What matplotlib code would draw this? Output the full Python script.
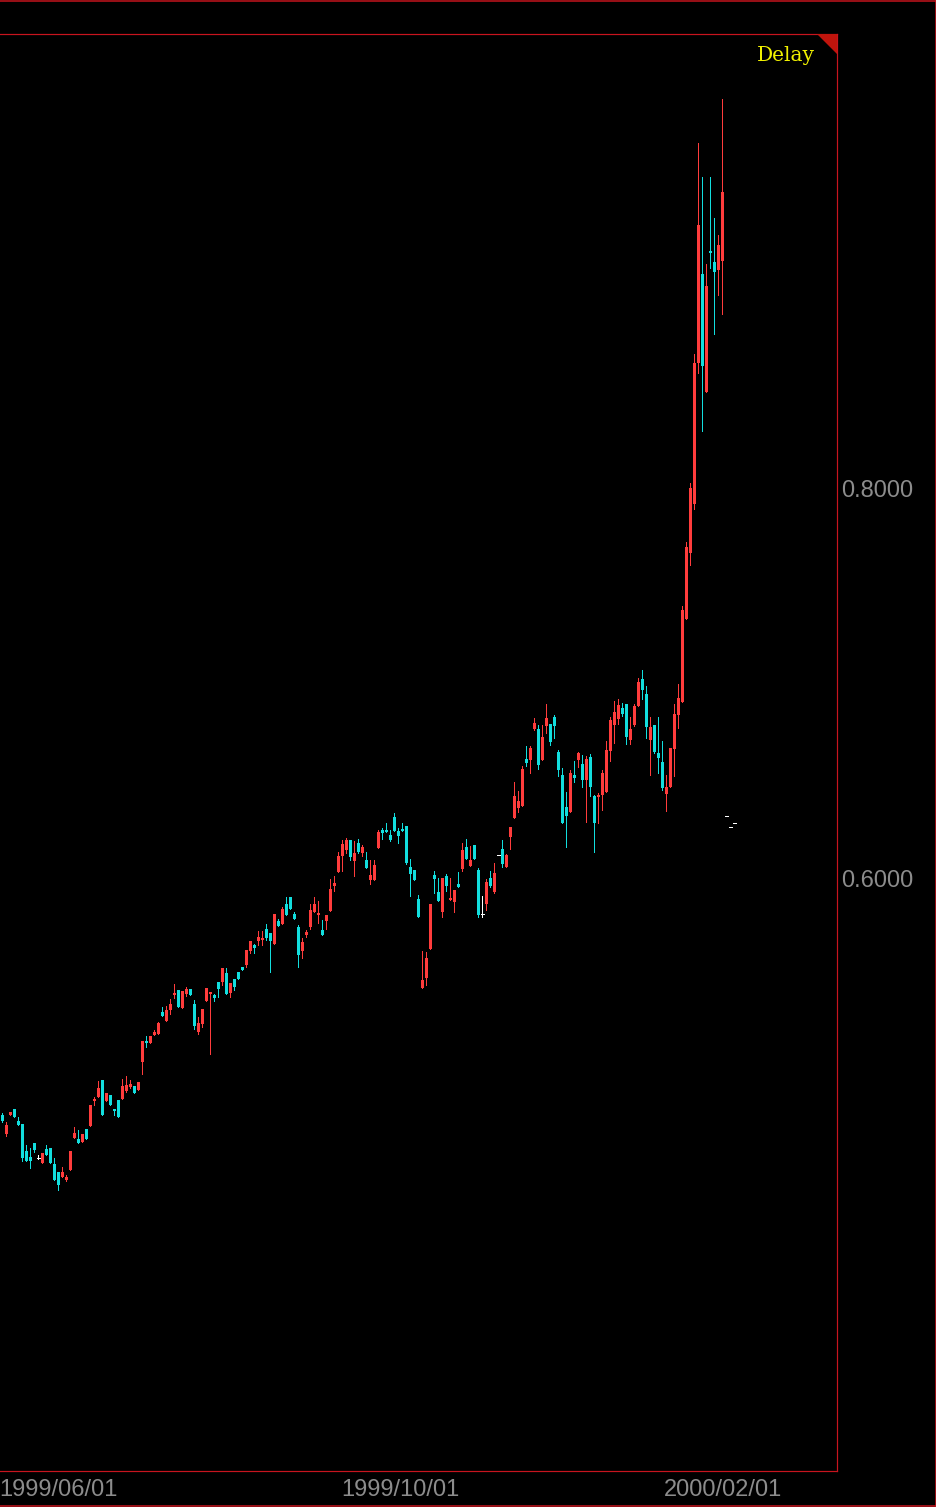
import matplotlib
matplotlib.use("Agg")
import matplotlib.pyplot as plt
from matplotlib.lines import Line2D
from matplotlib.patches import Polygon
import numpy as np

# ---------------- data (candle index, OHLC) ----------------
opens = [
    .4790, .4693, .4790, .4821, .4759, .4744, .4605, .4574, .4646, .4569,
    .4543, .4615, .4621, .4538, .4497, .4472, .4456, .4507, .4672, .4667,
    .4651, .4718, .4733, .4862, .4882, .4970, .4862, .4893, .4821, .4867,
    .4872, .4913, .4934, .4939, .4918, .5061, .5169, .5159, .5200, .5205,
    .5317, .5271, .5328, .5405, .5431, .5338, .5410, .5436, .5359, .5215,
    .5256, .5374, .5410, .5405, .5471, .5471, .5518, .5415, .5487, .5523,
    .5549, .5559, .5631, .5662, .5682, .5687, .5743, .5723, .5667, .5784,
    .5769, .5872, .5908, .5820, .5754, .5631, .5713, .5754, .5831, .5815,
    .5738, .5784, .5836, .5964, .6036, .6118, .6149, .6200, .6092, .6185,
    .6133, .6097, .5995, .5995, .6159, .6251, .6251, .6226, .6318, .6246,
    .6256, .6272, .6062, .6046, .5897, .5441, .5492, .5641, .6021, .5933,
    .5831, .6015, .5892, .5882, .5974, .6051, .6164, .6067, .6174, .6046,
    .5820, .5872, .6005, .5933, .6123, .6154, .6062, .6215, .6313, .6364,
    .6374, .6616, .6611, .6769, .6769, .6611, .6785, .6795, .6831, .6652,
    .6533, .6369, .6344, .6533, .6611, .6590, .6508, .6626, .6426, .6421,
    .6431, .6446, .6656, .6790, .6820, .6877, .6897, .6713, .6790, .6887,
    .7026, .6949, .6713, .6790, .6646, .6600, .6436, .6472, .6667, .6841,
    .6908, .7333, .7672, .7923, .8646, .9103, .8497, .9221, .9164, .9123,
    .9169,
]
highs = [
    .4800, .4754, .4805, .4821, .4780, .4744, .4636, .4621, .4646, .4585,
    .4595, .4636, .4621, .4569, .4497, .4523, .4482, .4605, .4729, .4713,
    .4693, .4718, .4841, .4882, .4964, .4970, .4903, .4893, .4821, .4867,
    .4975, .4990, .4970, .4939, .4959, .5169, .5195, .5195, .5226, .5267,
    .5343, .5348, .5385, .5461, .5431, .5425, .5446, .5436, .5379, .5292,
    .5333, .5441, .5420, .5410, .5471, .5544, .5544, .5466, .5487, .5523,
    .5549, .5636, .5682, .5667, .5733, .5733, .5769, .5723, .5820, .5795,
    .5856, .5908, .5908, .5831, .5764, .5697, .5738, .5872, .5908, .5887,
    .5790, .5815, .6000, .6015, .6139, .6200, .6210, .6200, .6195, .6205,
    .6174, .6139, .6097, .6097, .6251, .6262, .6287, .6251, .6338, .6262,
    .6287, .6272, .6103, .6046, .5918, .5631, .5626, .5872, .6041, .6005,
    .6005, .6026, .6005, .5944, .6036, .6185, .6205, .6169, .6174, .6056,
    .5913, .6000, .6041, .6082, .6123, .6200, .6128, .6267, .6497, .6451,
    .6580, .6682, .6682, .6826, .6790, .6790, .6897, .6795, .6841, .6662,
    .6570, .6446, .6559, .6605, .6652, .6636, .6631, .6641, .6431, .6441,
    .6559, .6708, .6831, .6913, .6923, .6903, .6897, .6831, .6897, .7031,
    .7072, .6990, .6831, .6790, .6831, .6708, .6533, .6672, .6897, .7000,
    .7400, .7728, .8031, .8692, .9774, .9600, .9154, .9600, .9390, .9303,
    1.0000,
]
lows = [
    .4754, .4682, .4790, .4780, .4739, .4554, .4554, .4518, .4600, .4564,
    .4543, .4585, .4543, .4456, .4405, .4472, .4451, .4507, .4672, .4646,
    .4651, .4667, .4733, .4841, .4882, .4790, .4862, .4841, .4790, .4780,
    .4872, .4908, .4929, .4903, .4918, .5000, .5138, .5159, .5200, .5205,
    .5297, .5271, .5307, .5390, .5343, .5338, .5400, .5405, .5231, .5205,
    .5241, .5374, .5102, .5374, .5395, .5456, .5410, .5395, .5431, .5487,
    .5533, .5549, .5621, .5621, .5662, .5662, .5687, .5523, .5667, .5759,
    .5769, .5815, .5846, .5795, .5549, .5595, .5703, .5743, .5831, .5774,
    .5713, .5743, .5836, .5938, .6036, .6041, .6133, .6097, .6015, .6133,
    .6118, .6056, .5974, .5995, .6159, .6205, .6241, .6195, .6246, .6185,
    .6246, .6077, .5913, .5995, .5805, .5441, .5456, .5641, .5928, .5887,
    .5805, .5938, .5892, .5831, .5959, .6041, .6103, .6067, .6103, .5805,
    .5805, .5841, .5959, .5928, .6123, .6062, .6062, .6154, .6313, .6344,
    .6374, .6580, .6544, .6764, .6565, .6611, .6749, .6687, .6723, .6528,
    .6287, .6164, .6344, .6497, .6575, .6472, .6292, .6426, .6139, .6287,
    .6354, .6446, .6605, .6698, .6795, .6836, .6692, .6692, .6785, .6887,
    .6923, .6723, .6533, .6646, .6544, .6456, .6349, .6472, .6528, .6774,
    .6908, .7333, .7610, .7897, .8595, .8297, .8497, .9133, .8795, .8995,
    .8897,
]
closes = [
    .4759, .4739, .4805, .4780, .4739, .4569, .4554, .4554, .4610, .4569,
    .4595, .4585, .4543, .4456, .4431, .4497, .4472, .4605, .4698, .4646,
    .4693, .4667, .4841, .4872, .4929, .4790, .4903, .4841, .4810, .4780,
    .4939, .4944, .4949, .4903, .4959, .5169, .5159, .5195, .5215, .5262,
    .5297, .5328, .5359, .5415, .5343, .5425, .5436, .5405, .5246, .5262,
    .5333, .5441, .5420, .5390, .5436, .5544, .5410, .5466, .5446, .5487,
    .5533, .5636, .5682, .5646, .5703, .5697, .5697, .5682, .5820, .5759,
    .5846, .5815, .5846, .5795, .5610, .5677, .5728, .5841, .5872, .5825,
    .5713, .5815, .5949, .5979, .6118, .6180, .6200, .6113, .6133, .6139,
    .6164, .6056, .6021, .6072, .6241, .6236, .6241, .6200, .6246, .6221,
    .6246, .6082, .6026, .5995, .5805, .5482, .5595, .5872, .6000, .5887,
    .6005, .5964, .5903, .5944, .5959, .6149, .6103, .6097, .6103, .5815,
    .5820, .5985, .5964, .6031, .6123, .6077, .6123, .6267, .6426, .6400,
    .6565, .6595, .6672, .6800, .6585, .6728, .6826, .6703, .6785, .6559,
    .6287, .6323, .6544, .6518, .6646, .6508, .6616, .6472, .6287, .6431,
    .6544, .6662, .6815, .6856, .6892, .6846, .6728, .6769, .6887, .7010,
    .6969, .6780, .6780, .6652, .6621, .6467, .6472, .6672, .6846, .6928,
    .7379, .7702, .8005, .8646, .9354, .8631, .9041, .9210, .9113, .9251,
    .9523,
]

date_positions = [14, 99.4, 180.2]
date_labels = ["1999/06/01", "1999/10/01", "2000/02/01"]
price_ticks = [0.6, 0.8]
marker_x = [181, 182, 183]
marker_y = [0.6323, 0.6267, 0.6287]

# ---------------- styling ----------------
W, H, DPI = 937, 1507, 100
BG = "#000000"
UP = "#FF3C3C"
DOWN = "#12DEDE"
FLAT = "#FFFFFF"
FRAME = "#C8141E"
LABEL = "#8C8C8C"
PX = 72.0 / DPI  # one pixel in points

fig = plt.figure(figsize=(W / DPI, H / DPI), dpi=DPI, facecolor=BG)
ax = fig.add_axes([0 / W, 1 - 1471 / H, 837 / W, (1471 - 34) / H])
ax.set_facecolor(BG)

o = np.array(opens); h = np.array(highs); l = np.array(lows); c = np.array(closes)
x = np.arange(len(o))
colors = np.where(c > o, UP, np.where(c < o, DOWN, FLAT))

# wicks
ax.vlines(x, l, h, colors=colors, linewidth=1.0 * PX, antialiased=False, zorder=2)
# bodies
body_w = 0.75
bottom = np.minimum(o, c)
height = np.abs(c - o)
mask = height > 0
height_min = np.maximum(height, 0.0008)
ax.bar(x[mask], height_min[mask], bottom=bottom[mask], width=body_w,
       color=colors[mask], linewidth=0, antialiased=False, zorder=3)
# doji
ax.hlines(c[~mask], x[~mask] - body_w / 2, x[~mask] + body_w / 2,
          colors=FLAT, linewidth=1.0 * PX, antialiased=False, zorder=3)
# small white marks after last candle
ax.hlines(marker_y, np.array(marker_x) - 0.4, np.array(marker_x) + 0.4,
          colors="#FFFFFF", linewidth=0.9 * PX, antialiased=False, zorder=3)

# limits (pixel-calibrated)
ax.set_xlim(-0.5825, 208.67)
ax.set_ylim(0.29641, 1.03333)

# spines
for side in ["top", "right", "bottom"]:
    ax.spines[side].set_color(FRAME)
    ax.spines[side].set_linewidth(1.2 * PX)
ax.spines["left"].set_visible(False)

# ticks
ax.yaxis.tick_right()
ax.set_yticks(price_ticks)
ax.set_yticklabels([f"{v:.4f}" for v in price_ticks])
ax.set_xticks(date_positions)
ax.set_xticklabels(date_labels)
ax.tick_params(axis="y", length=0, pad=4 * PX, labelsize=17, labelcolor=LABEL)
ax.tick_params(axis="x", length=0, pad=8 * PX, labelsize=17, labelcolor=LABEL)
for t in ax.get_xticklabels() + ax.get_yticklabels():
    t.set_fontfamily("Liberation Sans")

# outer frame lines
fig.add_artist(Line2D([0, 1], [1 - 0.5 / H, 1 - 0.5 / H], color=FRAME,
                      linewidth=1.5 * PX, transform=fig.transFigure))
fig.add_artist(Line2D([936.5 / W, 936.5 / W], [0, 1], color=FRAME,
                      linewidth=1.5 * PX, transform=fig.transFigure))
fig.add_artist(Line2D([0, 1], [0.8 / H, 0.8 / H], color=FRAME,
                      linewidth=1.5 * PX, transform=fig.transFigure))

# corner triangle
tri = Polygon([(817 / W, 1 - 34 / H), (837 / W, 1 - 34 / H), (837 / W, 1 - 54 / H)],
              closed=True, facecolor="#C0140C", edgecolor="none",
              transform=fig.transFigure)
fig.add_artist(tri)

fig.text(815 / W, 1 - 61 / H, "Delay", color="#F0F000", fontsize=14.5,
         family="DejaVu Serif", ha="right", va="baseline")

fig.savefig("out.png", dpi=DPI, facecolor=BG)
